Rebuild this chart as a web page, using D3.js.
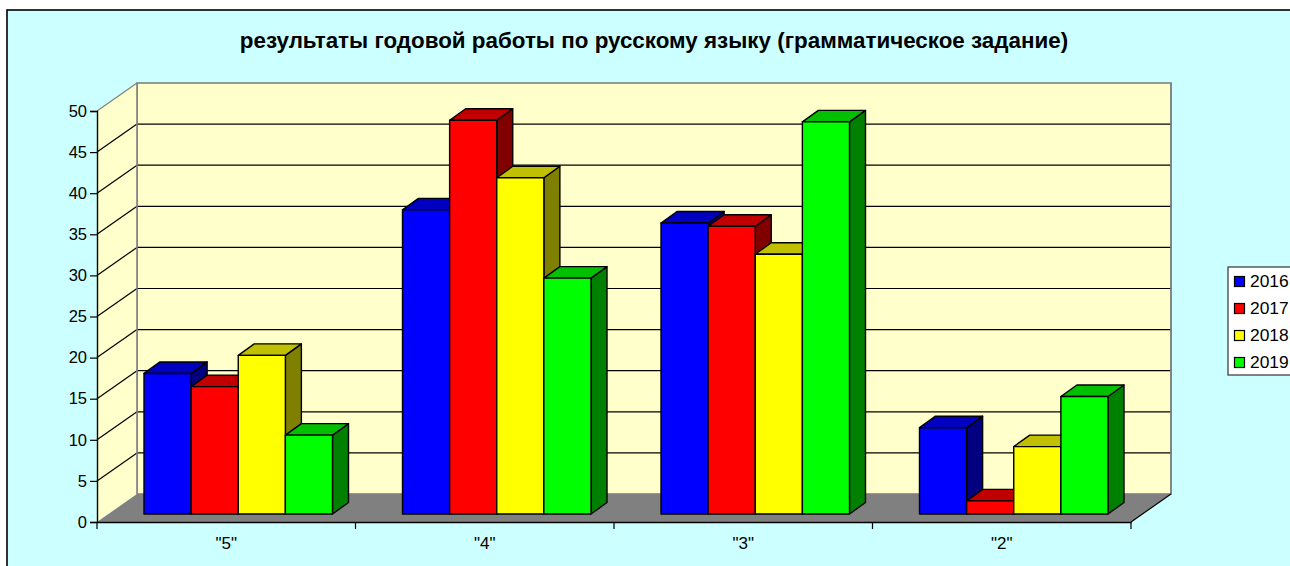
<!DOCTYPE html>
<html>
<head>
<meta charset="utf-8">
<script src="https://cdn.jsdelivr.net/npm/d3@7"></script>
<style>
html,body{margin:0;padding:0;background:#fff;overflow:hidden}
text{font-family:"Liberation Sans",Arial,sans-serif;fill:#000}
</style>
</head>
<body>
<div id="container"></div>
<script>
let w=1290;
let h=566;

let titleText="результаты годовой работы по русскому языку (грамматическое задание)";
let categories=['"5"','"4"','"3"','"2"'];
let years=["2016","2017","2018","2019"];
let values2016=[17.1,37,35.4,10.5];
let values2017=[15.5,47.9,35,1.6];
let values2018=[19.3,40.9,31.6,8.2];
let values2019=[9.6,28.7,47.7,14.3];
let yTicks=[0,5,10,15,20,25,30,35,40,45,50];

let frontColors=["#0000ff","#ff0000","#ffff00","#00ff00"];
let topColors=["#0000c0","#c00000","#c0c000","#00c000"];
let sideColors=["#000080","#800000","#808000","#008000"];

let allValues=[values2016,values2017,values2018,values2019];

// plot box, front plane
let left=97, right=1131, top0=111, bottom=522;
// depth of the 3d box and of the bars
let depthX=40, depthY=28;
let gapX=12, gapY=8;
let barX=16, barY=11.5;

let x=d3.scaleBand().domain(categories).range([left,right]);
let y=d3.scaleLinear().domain([0,50]).range([bottom,top0]);
let xInner=d3.scaleBand().domain(years).range([47,235.5]);

function pts(a){
  return a.map(function(p){return p.join(",");}).join(" ");
}

let viz=d3.select("#container").append("svg")
  .attr("width",w).attr("height",h)
  .style("display","block");

// chart area, only left and top edges are visible in the window
viz.append("rect").attr("x",7).attr("y",10).attr("width",w).attr("height",h)
  .attr("fill","#ccffff").attr("stroke","#000").attr("stroke-width",1.6);

viz.append("text").text(titleText)
  .attr("x",654).attr("y",47.5)
  .attr("text-anchor","middle")
  .attr("font-weight","bold")
  .attr("font-size",22.4);

// back wall
viz.append("rect")
  .attr("x",left+depthX).attr("y",top0-depthY)
  .attr("width",right-left).attr("height",bottom-top0)
  .attr("fill","#ffffcc").attr("stroke","#808080").attr("stroke-width",1.6);
// left wall
viz.append("polygon")
  .attr("points",pts([[left,top0],[left+depthX,top0-depthY],[left+depthX,bottom-depthY],[left,bottom]]))
  .attr("fill","#ffffcc");
// floor
viz.append("polygon")
  .attr("points",pts([[left,bottom],[left+depthX,bottom-depthY],[right+depthX,bottom-depthY],[right,bottom]]))
  .attr("fill","#808080");

// gridlines
viz.selectAll(".grid").data(yTicks.slice(1,-1)).enter()
  .append("line").attr("class","grid")
  .attr("x1",left+depthX).attr("x2",right+depthX)
  .attr("y1",function(d){return y(d)-depthY;})
  .attr("y2",function(d){return y(d)-depthY;})
  .attr("stroke","#000").attr("stroke-width",1.2);
viz.selectAll(".gridside").data(yTicks.slice(1)).enter()
  .append("line").attr("class","gridside")
  .attr("x1",left).attr("x2",left+depthX)
  .attr("y1",function(d){return y(d);})
  .attr("y2",function(d){return y(d)-depthY;})
  .attr("stroke",function(d){return d==50?"#808080":"#000";}).attr("stroke-width",1.2);
viz.append("line")
  .attr("x1",left+depthX).attr("x2",left+depthX)
  .attr("y1",top0-depthY).attr("y2",bottom-depthY)
  .attr("stroke","#808080").attr("stroke-width",1.6);
viz.append("line")
  .attr("x1",right+depthX).attr("x2",right+depthX)
  .attr("y1",top0-depthY).attr("y2",bottom-depthY)
  .attr("stroke","#808080").attr("stroke-width",1.6);

// bars
let base=y(0)-gapY;
categories.forEach(function(cat,ci){
  let g=viz.append("g").attr("class","cat");
  years.forEach(function(yr,si){
    let v=allValues[si][ci];
    let x0=x(cat)+xInner(yr);
    let x1=x0+xInner.bandwidth();
    let top=y(v)-gapY;
    let bar=g.append("g")
      .attr("stroke","#000").attr("stroke-width",1.4).attr("stroke-linejoin","round");
    bar.append("polygon")
      .attr("points",pts([[x1,top],[x1+barX,top-barY],[x1+barX,base-barY],[x1,base]]))
      .attr("fill",sideColors[si]);
    bar.append("polygon")
      .attr("points",pts([[x0,top],[x0+barX,top-barY],[x1+barX,top-barY],[x1,top]]))
      .attr("fill",topColors[si]);
    bar.append("rect")
      .attr("x",x0).attr("y",top)
      .attr("width",x1-x0).attr("height",base-top)
      .attr("fill",frontColors[si]);
  });
});

// y axis
let yAxis=d3.axisLeft(y).tickValues(yTicks).tickSize(7).tickPadding(3);
let yg=viz.append("g").attr("transform","translate("+left+",0)").call(yAxis);
yg.select(".domain").attr("stroke","#000").attr("stroke-width",1.4);
yg.selectAll("line").attr("stroke","#000").attr("stroke-width",1.2);
yg.selectAll("text").attr("font-size",16.5);

// x axis
let xAxis=d3.axisBottom(x).tickSize(0).tickPadding(15).tickSizeOuter(0);
let xg=viz.append("g").attr("transform","translate(0,"+bottom+")").call(xAxis);
xg.select(".domain").attr("stroke","#000").attr("stroke-width",1.4);
xg.selectAll("text").attr("font-size",17);
let bounds=categories.map(function(c){return x(c);}).concat([right]);
xg.selectAll(".bound").data(bounds).enter()
  .append("line").attr("class","bound")
  .attr("x1",function(d){return d;}).attr("x2",function(d){return d;})
  .attr("y1",0).attr("y2",7)
  .attr("stroke","#000").attr("stroke-width",1.2);
// right edge of the floor
viz.append("line")
  .attr("x1",right).attr("y1",bottom)
  .attr("x2",right+depthX).attr("y2",bottom-depthY)
  .attr("stroke","#000").attr("stroke-width",1.2);

// legend
let legY=d3.scalePoint().domain(years).range([281.5,362.5]);
viz.append("rect").attr("x",1228).attr("y",267).attr("width",80).attr("height",108)
  .attr("fill","#fff").attr("stroke","#333").attr("stroke-width",1.2);
let leg=viz.selectAll(".leg").data(years).enter().append("g").attr("class","leg")
  .attr("transform",function(d){return "translate(1234.5,"+legY(d)+")";});
leg.append("rect").attr("x",0).attr("y",-5).attr("width",10).attr("height",10)
  .attr("fill",function(d,i){return frontColors[i];})
  .attr("stroke","#000").attr("stroke-width",1.2);
leg.append("text").text(function(d){return d;})
  .attr("x",15.5).attr("y",5.5).attr("font-size",17.4);
</script>
</body>
</html>
